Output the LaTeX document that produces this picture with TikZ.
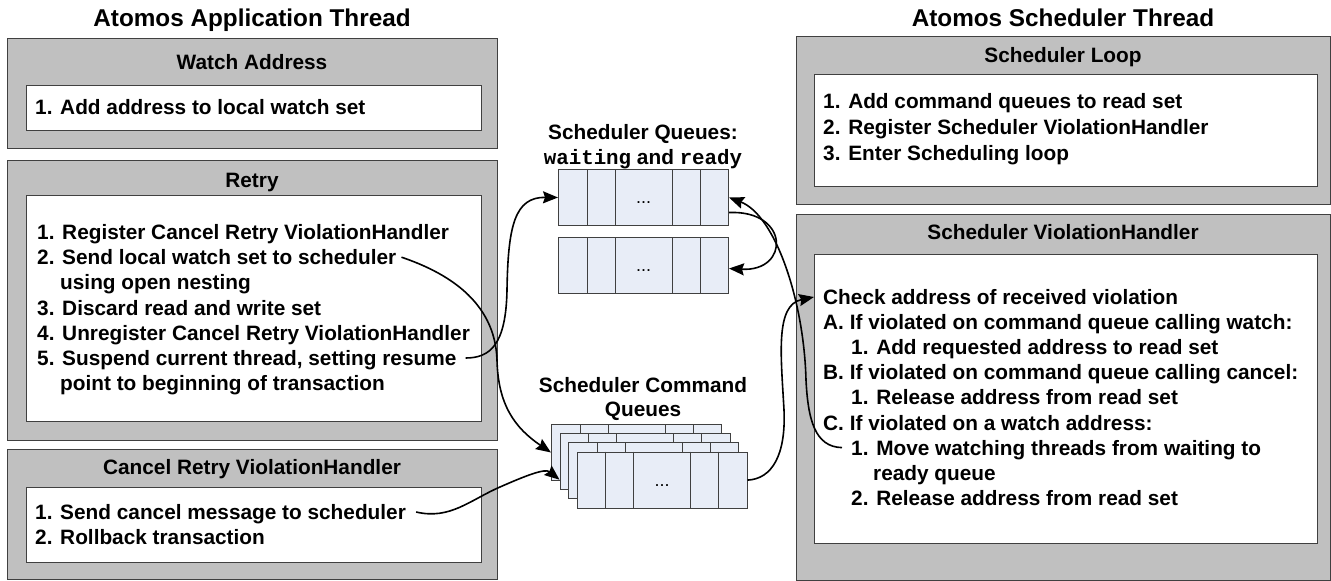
\documentclass[tikz,border=0pt]{standalone}
\usepackage{fontspec}
\setmainfont{Liberation Sans}
\setmonofont{Liberation Mono}
\usetikzlibrary{arrows.meta, positioning}
\definecolor{PanelGray}{HTML}{C0C0C0}
\definecolor{EdgeGray}{HTML}{404040}
\definecolor{QueueBlue}{HTML}{E8EDF7}

% one queue: name, x, y of its top left corner
\newcommand{\schedqueue}[3]{%
  \node[qbox] (#1) at (#2,#3) {};
  \foreach \cx in {29,57,114,142}
    \draw[qline] ([xshift=\cx pt]#1.north west) -- ([xshift=\cx pt]#1.south west);
}

\begin{document}
\begin{tikzpicture}[
      x=1pt, y=-1pt,
      panel/.style={rectangle, draw=EdgeGray, fill=PanelGray, line width=1.3pt, anchor=north west, inner sep=0pt},
      inbox/.style={rectangle, draw=EdgeGray, fill=white, line width=1.3pt, anchor=north west, inner sep=0pt},
      title/.style={font=\fontsize{24.3}{29}\selectfont\bfseries, inner sep=0pt, text height=19.4pt, text depth=2pt},
      header/.style={font=\fontsize{20.8}{25}\selectfont\bfseries, inner sep=0pt, text height=17pt, text depth=2pt},
      item/.style={font=\fontsize{20.8}{25}\selectfont\bfseries, anchor=west, inner sep=0pt, text height=17pt, text depth=2pt},
      qbox/.style={rectangle, draw=EdgeGray, fill=QueueBlue, line width=1pt, minimum width=170pt, minimum height=56pt, anchor=north west, inner sep=0pt},
      qline/.style={draw=EdgeGray, line width=1pt},
      qdots/.style={font=\fontsize{18}{20}\selectfont, anchor=base, inner sep=0pt},
      arrow/.style={-{Stealth[length=15pt, width=12pt, inset=2pt]}, line width=1.6pt}
      ]
      \useasboundingbox (0,0) rectangle (1331,581);

      % Titles
      \node[title] (apptitle) at (252,18) {Atomos Application Thread};
      \node[title] (schedtitle) at (1063,18) {Atomos Scheduler Thread};

      % Application thread panels
      \node[panel, minimum width=490pt, minimum height=110pt] (watch) at (7,38) {};
      \node[inbox, minimum width=455pt, minimum height=45pt] (watchin) at (26,85) {};
      \node[header] (watchhead) at (252,62) {Watch Address};
      \node[item] (w1) at (35,107) {1. Add address to local watch set};

      \node[panel, minimum width=490pt, minimum height=280pt] (retry) at (7,160) {};
      \node[inbox, minimum width=455pt, minimum height=226pt] (retryin) at (26,195) {};
      \node[header] (retryhead) at (252,180) {Retry};
      \node[item] (r1) at (37,232) {1. Register Cancel Retry ViolationHandler};
      \node[item] (r2) at (37,257.2) {2. Send local watch set to scheduler};
      \node[item] (r2b) at (60,282.4) {using open nesting};
      \node[item] (r3) at (37,307.6) {3. Discard read and write set};
      \node[item] (r4) at (37,332.8) {4. Unregister Cancel Retry ViolationHandler};
      \node[item] (r5) at (37,358) {5. Suspend current thread, setting resume};
      \node[item] (r5b) at (60,383.2) {point to beginning of transaction};

      \node[panel, minimum width=490pt, minimum height=130pt] (cancel) at (7,449) {};
      \node[inbox, minimum width=455pt, minimum height=75pt] (cancelin) at (26,487) {};
      \node[header] (cancelhead) at (252,467) {Cancel Retry ViolationHandler};
      \node[item] (c1) at (35,512) {1. Send cancel message to scheduler};
      \node[item] (c2) at (35,537) {2. Rollback transaction};

      % Scheduler thread panels
      \node[panel, minimum width=534pt, minimum height=168pt] (loop) at (796,36) {};
      \node[inbox, minimum width=503pt, minimum height=112pt] (loopin) at (814,74) {};
      \node[header] (loophead) at (1063,55) {Scheduler Loop};
      \node[item] (l1) at (823,101) {1. Add command queues to read set};
      \node[item] (l2) at (823,127) {2. Register Scheduler ViolationHandler};
      \node[item] (l3) at (823,153) {3. Enter Scheduling loop};

      \node[panel, minimum width=534pt, minimum height=366pt] (handler) at (796,214) {};
      \node[inbox, minimum width=503pt, minimum height=289pt] (handlerin) at (814,254) {};
      \node[header] (handlerhead) at (1063,232) {Scheduler ViolationHandler};
      \node[item] (sv0) at (823,297) {Check address of received violation};
      \node[item] (sv1) at (823,322.1) {A. If violated on command queue calling watch:};
      \node[item] (sv2) at (851,347.2) {1. Add requested address to read set};
      \node[item] (sv3) at (823,372.3) {B. If violated on command queue calling cancel:};
      \node[item] (sv4) at (851,397.4) {1. Release address from read set};
      \node[item] (sv5) at (823,422.5) {C. If violated on a watch address:};
      \node[item] (sv6) at (851,447.6) {1. Move watching threads from waiting to};
      \node[item] (sv6b) at (873,472.7) {ready queue};
      \node[item] (sv7) at (851,497.8) {2. Release address from read set};

      % Scheduler queues
      \node[header] (qhead) at (643,132) {Scheduler Queues:};
      \node[header] (qhead2) at (643,157) {\ttfamily waiting\rmfamily{} and \ttfamily ready};
      \schedqueue{q1}{558}{169}
      \schedqueue{q2}{558}{237}
      \node[qdots] (q1dots) at ([yshift=-6pt]q1.center) {...};
      \node[qdots] (q2dots) at ([yshift=-6pt]q2.center) {...};

      % Command queues, back to front
      \node[header] (cqhead) at (643,385) {Scheduler Command};
      \node[header] (cqhead2) at (643,409) {Queues};
      \schedqueue{cq1}{551}{424}
      \schedqueue{cq2}{559.5}{433.2}
      \schedqueue{cq3}{568}{442.4}
      \schedqueue{cq4}{576.5}{451.6}
      \node[qdots] (cqdots) at ([yshift=-6pt]cq4.center) {...};

      % Arrows
      \draw[arrow] ([xshift=5pt]r2.east) .. controls (445,272) and (495,300) .. (497,360)
            .. controls (498,405) and (515,428) .. (cq1.west);
      \draw[arrow] ([xshift=9pt]r5.east) .. controls (490,358) and (506,345) .. (507,290)
            .. controls (508,225) and (515,197) .. (q1.west);
      \draw[arrow] ([xshift=10pt]c1.east) .. controls (450,520) and (470,500) .. (500,487)
            .. controls (525,476) and (545,468) .. ([yshift=-18pt]cq2.west);
      \draw[arrow] (cq4.east) .. controls (772,479) and (786,455) .. (784,410)
            .. controls (781,355) and (775,305) .. ([xshift=-9pt]sv0.west);
      \draw[arrow] ([xshift=-9pt]sv6.west) .. controls (815,447) and (808,420) .. (806,380)
            .. controls (804,300) and (775,215) .. (q1.east);
      \draw[arrow] ([yshift=-15pt]q1.east) .. controls (790,210) and (790,272) .. ([yshift=-3pt]q2.east);

\end{tikzpicture}
\end{document}
